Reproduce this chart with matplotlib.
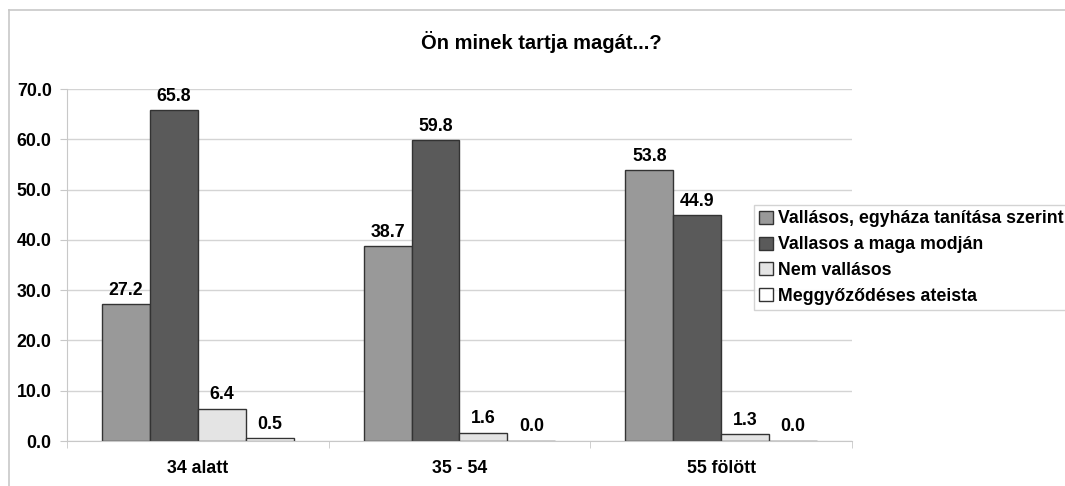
import matplotlib.pyplot as plt
import numpy as np
from matplotlib.lines import Line2D

plt.rcParams['font.family'] = ['Liberation Sans', 'DejaVu Sans']
plt.rcParams['font.weight'] = 'bold'

groups = ['34 alatt', '35 - 54', '55 fölött']
series = ['Vallásos, egyháza tanítása szerint', 'Vallasos a maga modján',
          'Nem vallásos', 'Meggyőződéses ateista']
vallasos_egyhaz = [27.2, 38.7, 53.8]
vallasos_maga = [65.8, 59.8, 44.9]
nem_vallasos = [6.4, 1.6, 1.3]
ateista = [0.5, 0.0, 0.0]
colors = ['#999999', '#5a5a5a', '#e4e4e4', '#ffffff']

values = [vallasos_egyhaz, vallasos_maga, nem_vallasos, ateista]
fs = 12.8

fig = plt.figure(figsize=(10.65, 4.86), dpi=100)
ax = fig.add_axes([67 / 1065, 1 - 441 / 486, (852 - 67) / 1065, (441 - 89) / 486])

# outer chart frame (only top/left edges visible in the original)
top = 1 - 10 / 486
left = 9 / 1065
fig.lines.append(Line2D([left, 1.0], [top, top], transform=fig.transFigure, color='#c8c8c8', lw=1.2))
fig.lines.append(Line2D([left, left], [0, top], transform=fig.transFigure, color='#c8c8c8', lw=1.2))

x = np.arange(len(groups))
w = 0.183
for i, (vals, c, name) in enumerate(zip(values, colors, series)):
    pos = x + (i - 1.5) * w
    ax.bar(pos, vals, w, color=c, edgecolor='#333333', linewidth=1.0, label=name)
    for p, v in zip(pos, vals):
        ax.annotate(f'{v:.1f}', (p, v), xytext=(0, 4), textcoords='offset points',
                    ha='center', va='bottom', fontsize=fs, fontweight='bold')

ax.set_xlim(-0.5, 2.5)
ax.set_ylim(0, 70)
ax.set_yticks(np.arange(0, 71, 10))
ax.set_yticklabels([f'{t:.1f}' for t in np.arange(0, 71, 10)], fontsize=fs, fontweight='bold')
ax.set_xticks(x)
ax.set_xticklabels(groups, fontsize=fs, fontweight='bold')
ax.tick_params(axis='x', length=0, pad=14)
ax.set_xticks([-0.5, 0.5, 1.5, 2.5], minor=True)
ax.tick_params(axis='x', which='minor', length=5, color='#c8c8c8')
ax.tick_params(axis='y', length=5, color='#c8c8c8', pad=6)
ax.yaxis.grid(True, color='#d4d4d4', linewidth=1.0)
ax.set_axisbelow(True)
for s in ['top', 'right']:
    ax.spines[s].set_visible(False)
ax.spines['left'].set_color('#c8c8c8')
ax.spines['bottom'].set_color('#c8c8c8')

fig.text(541 / 1065, 1 - 42 / 486, 'Ön minek tartja magát...?', ha='center', va='center',
         fontsize=14.5, fontweight='bold')

leg = fig.legend(loc='upper left', bbox_to_anchor=(754 / 1065, 1 - 205 / 486),
                 fontsize=fs, frameon=True, fancybox=False, handlelength=0.75,
                 handleheight=0.75, handletextpad=0.3, borderpad=0.3, labelspacing=0.5,
                 borderaxespad=0)
leg.get_frame().set_edgecolor('#c8c8c8')
leg.get_frame().set_linewidth(1.0)

plt.savefig('out.png', dpi=100)
